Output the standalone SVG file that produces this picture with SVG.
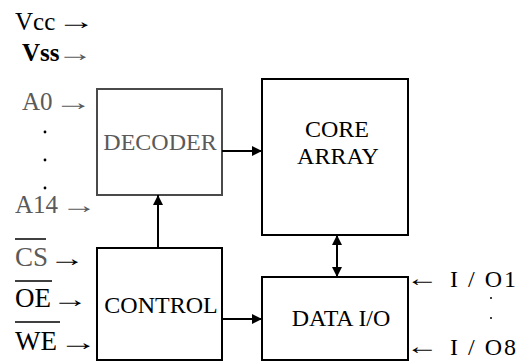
<svg xmlns="http://www.w3.org/2000/svg" width="528" height="361" viewBox="0 0 528 361" font-family="'Liberation Serif', 'DejaVu Serif', serif">
<style>
text{font-family:'Liberation Serif','DejaVu Serif',serif;fill:#000}
.lbl{font-size:25px}
.box{font-size:24px}
.g{fill:#5a5a5a}
.ar{font-size:24px}
rect{fill:#fff;stroke:#000;stroke-width:2}
.gb{stroke:#4a4a4a}
.c{stroke:#000;stroke-width:2;fill:none}
.ov{stroke:#000;stroke-width:1.5}
.dot{fill:#000}
</style>
<defs>
<marker id="ah" viewBox="0 0 10 10" refX="10" refY="5" markerWidth="5" markerHeight="5" orient="auto-start-reverse" markerUnits="strokeWidth">
<path d="M0,0 L10,5 L0,10 z" fill="#000"/>
</marker>
</defs>

<g id="pins-left">
<text class="lbl" x="15" y="30">Vcc</text><text class="ar" transform="translate(57 29) scale(1.6 1)">→</text>
<text class="lbl" x="22" y="61" font-weight="bold">Vss</text><text class="ar g" transform="translate(57 61) scale(1.5 1)">→</text>
<text class="lbl g" x="22" y="110">A0</text><text class="ar g" transform="translate(54 110) scale(1.6 1)">→</text>
<circle class="dot" cx="45" cy="132" r="1.4" fill="#5a5a5a"/>
<circle class="dot" cx="45" cy="160" r="1.4" fill="#5a5a5a"/>
<circle class="dot" cx="45" cy="188" r="1.4" fill="#5a5a5a"/>
<text class="lbl g" x="15" y="213">A14</text><text class="ar g" transform="translate(61 213) scale(1.5 1)">→</text>
<text class="lbl g" x="15" y="266" style="font-size:27px">CS</text><text class="ar" transform="translate(49 266) scale(1.5 1)">→</text>
<line class="ov" x1="15" y1="239" x2="46" y2="239"/>
<text class="lbl" x="15" y="307" style="font-size:27px">OE</text><text class="ar" transform="translate(52 307) scale(1.5 1)">→</text>
<line class="ov" x1="15" y1="281" x2="52" y2="281"/>
<text class="lbl" x="15" y="350" style="font-size:27px">WE</text><text class="ar" transform="translate(59 350) scale(1.6 1)">→</text>
<line class="ov" x1="15" y1="322" x2="60" y2="322"/>
</g>

<g id="decoder">
<rect class="gb" x="97" y="89" width="125" height="106"/>
<text class="box g" x="160" y="150" text-anchor="middle">DECODER</text>
</g>
<g id="control">
<rect x="97" y="248" width="125" height="112"/>
<text class="box" x="161" y="313" text-anchor="middle">CONTROL</text>
</g>
<g id="core-array">
<rect x="262" y="79" width="146" height="156"/>
<text class="box" x="337" y="137" text-anchor="middle">CORE</text>
<text class="box" x="338" y="164" text-anchor="middle">ARRAY</text>
</g>
<g id="data-io">
<rect x="262" y="277" width="146" height="83"/>
<text class="box" x="341" y="326" text-anchor="middle">DATA I/O</text>
</g>

<g id="pins-right">
<text class="ar" transform="translate(406 286) scale(1.35 1)">←</text>
<text class="box" x="450" y="287" letter-spacing="2">I / O1</text>
<circle class="dot" cx="491" cy="298" r="1"/>
<circle class="dot" cx="491" cy="318" r="1"/>
<text class="ar" transform="translate(406 354) scale(1.35 1)">←</text>
<text class="box" x="450" y="355" letter-spacing="2">I / O8</text>
</g>

<g id="connectors">
<line class="c" x1="222" y1="151" x2="262" y2="151" marker-end="url(#ah)"/>
<line class="c" x1="158" y1="248" x2="158" y2="195" marker-end="url(#ah)"/>
<line class="c" x1="222" y1="319" x2="262" y2="319" marker-end="url(#ah)"/>
<line class="c" x1="337" y1="235" x2="337" y2="277" marker-start="url(#ah)" marker-end="url(#ah)"/>
</g>
</svg>
